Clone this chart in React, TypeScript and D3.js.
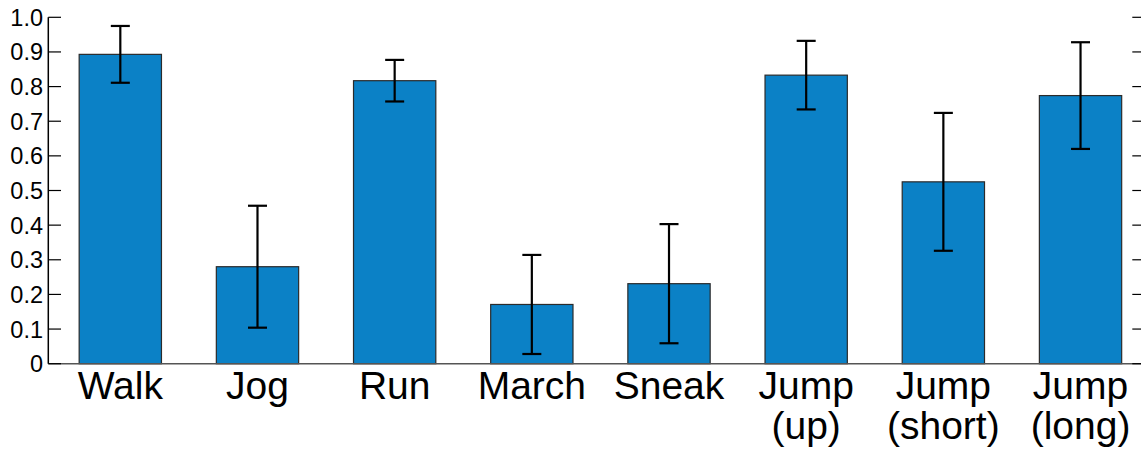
import React from "react";
import * as d3 from "d3";

// Mean recognition rate per activity with its error half-width
const categories: string[][] = [
  ["Walk"],
  ["Jog"],
  ["Run"],
  ["March"],
  ["Sneak"],
  ["Jump", "(up)"],
  ["Jump", "(short)"],
  ["Jump", "(long)"],
];
const means = [0.893, 0.28, 0.817, 0.171, 0.231, 0.833, 0.525, 0.774];
const errors = [0.082, 0.176, 0.06, 0.143, 0.172, 0.099, 0.199, 0.154];
const yTicks = [0, 0.1, 0.2, 0.3, 0.4, 0.5, 0.6, 0.7, 0.8, 0.9, 1.0];
const yTickLabels = ["0", "0.1", "0.2", "0.3", "0.4", "0.5", "0.6", "0.7", "0.8", "0.9", "1.0"];

const W = 1141;
const H = 450;
const left = 48.3;
const right = 1145;
const top = 17.3;
const bottom = 363.7;

export default function App() {
  // bar positions 1..n on a linear axis, MATLAB-style
  const x = d3.scaleLinear().domain([0.475, 8.47]).range([left, right]);
  const y = d3.scaleLinear().domain([0, 1]).range([bottom, top]);
  const barW = x(1.6) - x(1);
  const capW = 19;
  const font = "'Liberation Sans', Arial, Helvetica, sans-serif";

  return (
    <svg
      width={W}
      height={H}
      style={{ position: "absolute", left: 0, top: 0, background: "#fff" }}
    >
      {/* bars */}
      {means.map((m, i) => (
        <rect
          key={"b" + i}
          x={x(i + 1) - barW / 2}
          y={y(m)}
          width={barW}
          height={y(0) - y(m)}
          fill="#0b81c6"
          stroke="#2b2b2b"
          strokeWidth={1.2}
        />
      ))}
      {/* error bars */}
      {means.map((m, i) => {
        const cx = x(i + 1);
        const lo = y(m - errors[i]);
        const hi = y(m + errors[i]);
        return (
          <g key={"e" + i} stroke="#000" strokeWidth={2.2}>
            <line x1={cx} x2={cx} y1={lo} y2={hi} />
            <line x1={cx - capW / 2} x2={cx + capW / 2} y1={lo} y2={lo} />
            <line x1={cx - capW / 2} x2={cx + capW / 2} y1={hi} y2={hi} />
          </g>
        );
      })}
      {/* axes */}
      <line x1={left} x2={right} y1={y(0)} y2={y(0)} stroke="#555" strokeWidth={1.5} />
      <line x1={left} x2={left} y1={y(1)} y2={y(0)} stroke="#000" strokeWidth={1.5} />
      <line x1={right} x2={right} y1={y(1)} y2={y(0)} stroke="#000" strokeWidth={1.5} />
      {yTicks.map((t, i) => (
        <g key={"t" + i}>
          <line x1={left} x2={left + 12.7} y1={y(t)} y2={y(t)} stroke="#000" strokeWidth={1.2} />
          <line x1={right - 12.7} x2={right} y1={y(t)} y2={y(t)} stroke="#000" strokeWidth={1.2} />
          <text
            x={43}
            y={y(t)}
            dy="0.36em"
            textAnchor="end"
            fontFamily={font}
            fontSize={23.5}
            fill="#000"
          >
            {yTickLabels[i]}
          </text>
        </g>
      ))}
      {/* category labels */}
      {categories.map((lines, i) => (
        <text
          key={"c" + i}
          x={x(i + 1)}
          textAnchor="middle"
          fontFamily={font}
          fontSize={39}
          fill="#000"
        >
          {lines.map((s, j) => (
            <tspan key={j} x={x(i + 1)} y={399 + j * 39.5}>
              {s}
            </tspan>
          ))}
        </text>
      ))}
    </svg>
  );
}
